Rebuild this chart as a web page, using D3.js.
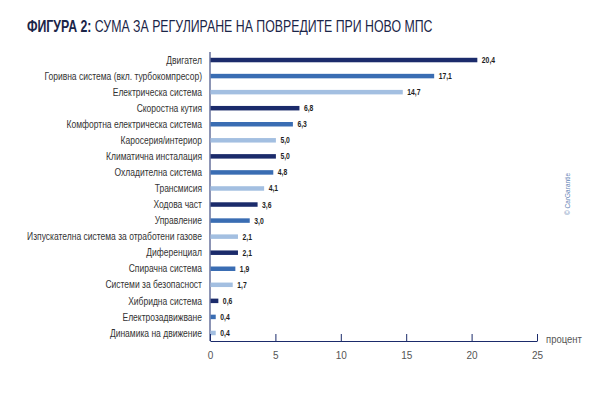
<!DOCTYPE html>
<html>
<head>
<meta charset="utf-8">
<script src="https://cdn.jsdelivr.net/npm/d3@7"></script>
<style>
  html, body { margin: 0; padding: 0; background: #fff; }
  svg { display: block; font-family: "Liberation Sans", "DejaVu Sans", sans-serif; }
</style>
</head>
<body>
<div id="chart"></div>
<script>
const categories = [
  "Двигател",
  "Горивна система (вкл. турбокомпресор)",
  "Електрическа система",
  "Скоростна кутия",
  "Комфортна електрическа система",
  "Каросерия/интериор",
  "Климатична инсталация",
  "Охладителна система",
  "Трансмисия",
  "Ходова част",
  "Управление",
  "Изпускателна система за отработени газове",
  "Диференциал",
  "Спирачна система",
  "Системи за безопасност",
  "Хибридна система",
  "Електрозадвижване",
  "Динамика на движение"
];
const values = [20.4, 17.1, 14.7, 6.8, 6.3, 5.0, 5.0, 4.8, 4.1, 3.6, 3.0, 2.1, 2.1, 1.9, 1.7, 0.6, 0.4, 0.4];
const xTicks = [0, 5, 10, 15, 20, 25];
const palette = ["#1b2b6b", "#3a6db3", "#a3bfe1"];

const width = 600, height = 395;
const svg = d3.select("#chart").append("svg")
  .attr("width", width)
  .attr("height", height);

// squeeze text horizontally (the original uses a condensed face)
const narrow = 0.81;

// title, scaled to the width it has in the original
const title = svg.append("text")
  .attr("x", 0)
  .attr("y", 0)
  .attr("fill", "#1b2548")
  .style("font-size", "16.5px");
title.append("tspan").attr("font-weight", "bold").text("ФИГУРА 2: ");
title.append("tspan").text("СУМА ЗА РЕГУЛИРАНЕ НА ПОВРЕДИТЕ ПРИ НОВО МПС");
const tw = title.node().getComputedTextLength();
title.attr("transform", `translate(27,31.5) scale(${406 / tw},1)`);

const x = d3.scaleLinear().domain([0, 25]).range([210, 537]);
const y = d3.scaleBand()
  .domain(categories)
  .range([52, 341])
  .paddingInner(0.72)
  .paddingOuter(0.36);

const axisColor = "#1b2b6b";

// vertical axis line
svg.append("line")
  .attr("x1", x(0)).attr("x2", x(0))
  .attr("y1", 52).attr("y2", 341)
  .attr("stroke", axisColor)
  .attr("stroke-width", 1);

// bars
svg.selectAll(".bar")
  .data(values)
  .enter()
  .append("rect")
  .attr("class", "bar")
  .attr("x", x(0) + 0.5)
  .attr("y", (d, i) => y(categories[i]))
  .attr("width", d => x(d) - x(0))
  .attr("height", y.bandwidth())
  .attr("fill", (d, i) => palette[i % 3]);

// value labels
svg.selectAll(".val")
  .data(values)
  .enter()
  .append("text")
  .attr("class", "val")
  .attr("transform", (d, i) => `translate(${x(d) + 5},${y(categories[i]) + y.bandwidth() / 2}) scale(0.8,1)`)
  .attr("dy", "0.35em")
  .attr("fill", "#1e1e1e")
  .attr("font-weight", "bold")
  .style("font-size", "8.5px")
  .text(d => d3.format(".1f")(d).replace(".", ","));

// category labels
svg.selectAll(".cat")
  .data(categories)
  .enter()
  .append("text")
  .attr("class", "cat")
  .attr("transform", d => `translate(202,${y(d) + y.bandwidth() / 2}) scale(${narrow},1)`)
  .attr("dy", "0.35em")
  .attr("text-anchor", "end")
  .attr("fill", "#333")
  .style("font-size", "10.5px")
  .text(d => d);

// x axis with ticks pointing up
const xAxis = svg.append("g")
  .attr("transform", "translate(0,341)")
  .call(d3.axisTop(x).tickValues(xTicks).tickSize(7).tickSizeOuter(0).tickFormat(d3.format("d")));
xAxis.select(".domain").attr("stroke", axisColor);
xAxis.selectAll(".tick line").attr("stroke", axisColor);
xAxis.selectAll(".tick text")
  .attr("y", 14)
  .attr("dy", "0.35em")
  .attr("fill", "#555")
  .style("font-size", "10px")
  .style("font-family", "\"Liberation Sans\", sans-serif");

svg.append("text")
  .attr("transform", "translate(546,339) scale(0.95,1)")
  .attr("dy", "0.35em")
  .attr("fill", "#555")
  .style("font-size", "10px")
  .text("процент");

// copyright
svg.append("text")
  .attr("transform", "translate(570,194) rotate(-90)")
  .attr("text-anchor", "middle")
  .attr("fill", "#5f82b4")
  .style("font-size", "6.5px")
  .text("© CarGarantie");
</script>
</body>
</html>
